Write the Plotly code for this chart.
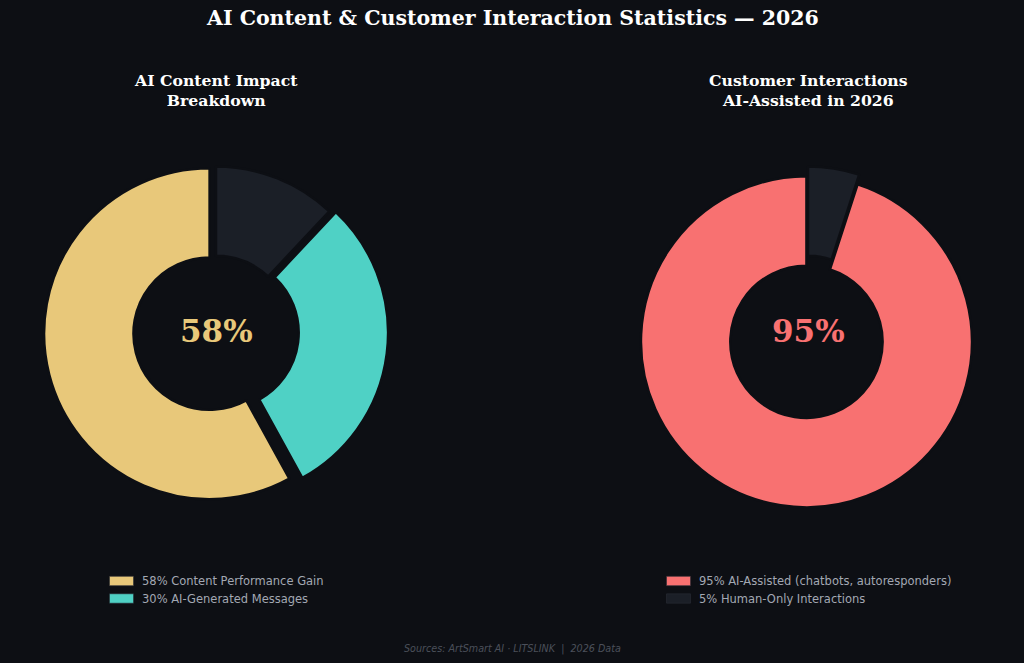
import plotly.graph_objects as go

W, H = 1024, 663
BG = "#0d0f14"
DARK = "#1b1f27"

# ---- data ----
left_labels = ["58% Content Performance Gain", "30% AI-Generated Messages", "Other"]
left_values = [58, 30, 12]
left_colors = ["#e8c87a", "#4fd1c5", DARK]
left_pull = [0.04, 0.04, 0]
left_legend_items = [0, 1]

right_labels = ["95% AI-Assisted (chatbots, autoresponders)", "5% Human-Only Interactions"]
right_values = [95, 5]
right_colors = ["#f87171", DARK]
right_pull = [0.06, 0]
right_legend_items = [0, 1]

title = "AI Content & Customer Interaction Statistics — 2026"
left_title = "AI Content Impact<br>Breakdown"
right_title = "Customer Interactions<br>AI-Assisted in 2026"
left_center = "58%"
right_center = "95%"
footer = "Sources: ArtSmart AI · LITSLINK  |  2026 Data"


def px_x(x):
    return x / W


def px_y(y):
    return 1 - y / H


def domain(cx, cy, r, pull):
    rd = r * (1 + max(pull))
    return dict(x=[px_x(cx - rd), px_x(cx + rd)], y=[px_y(cy + rd), px_y(cy - rd)])


def donut(labels, values, colors, pull, cx, cy):
    # first slice runs counter-clockwise from 12 o'clock: draw reversed, clockwise
    return go.Pie(
        labels=labels[::-1], values=values[::-1], sort=False, direction="clockwise",
        rotation=0, hole=0.46, pull=pull[::-1], textinfo="none", showlegend=False,
        marker=dict(colors=colors[::-1], line=dict(color=BG, width=2.5)),
        domain=domain(cx, cy, 165.5, pull),
    )


fig = go.Figure()
fig.add_trace(donut(left_labels, left_values, left_colors, left_pull, 216, 332))
fig.add_trace(donut(right_labels, right_values, right_colors, right_pull, 808, 332))

ann = []
shapes = []
serif = "DejaVu Serif"

ann.append(dict(text="<b>" + title + "</b>", x=0.5, y=px_y(18), xref="paper", yref="paper",
                showarrow=False, font=dict(family=serif, size=20.5, color="#ffffff"),
                xanchor="center", yanchor="middle"))
ann.append(dict(text="<b>" + left_title + "</b>", x=px_x(216), y=px_y(91), xref="paper", yref="paper",
                showarrow=False, font=dict(family=serif, size=15.7, color="#ffffff"),
                xanchor="center", yanchor="middle"))
ann.append(dict(text="<b>" + right_title + "</b>", x=px_x(808), y=px_y(91), xref="paper", yref="paper",
                showarrow=False, font=dict(family=serif, size=15.7, color="#ffffff"),
                xanchor="center", yanchor="middle"))
ann.append(dict(text="<b>" + left_center + "</b>", x=px_x(216), y=px_y(331), xref="paper", yref="paper",
                showarrow=False, font=dict(family=serif, size=31, color=left_colors[0]),
                xanchor="center", yanchor="middle"))
ann.append(dict(text="<b>" + right_center + "</b>", x=px_x(808), y=px_y(331), xref="paper", yref="paper",
                showarrow=False, font=dict(family=serif, size=31, color=right_colors[0]),
                xanchor="center", yanchor="middle"))
ann.append(dict(text="<i>" + footer + "</i>", x=0.5, y=px_y(649), xref="paper", yref="paper",
                showarrow=False, font=dict(family="DejaVu Sans", size=9.6, color="#4b4f5a"),
                xanchor="center", yanchor="middle"))


def add_legend(x0, items, labels, colors):
    for k, i in enumerate(items):
        yc = 581 + k * 17.5
        shapes.append(dict(type="rect", xref="paper", yref="paper",
                           x0=px_x(x0), x1=px_x(x0 + 24), y0=px_y(yc + 4.7), y1=px_y(yc - 4.7),
                           fillcolor=colors[i], line=dict(color="#2a2d35", width=0.6)))
        ann.append(dict(text=labels[i], x=px_x(x0 + 30), y=px_y(yc), xref="paper", yref="paper",
                        showarrow=False, font=dict(family="DejaVu Sans", size=11.5, color="#a3a8b3"),
                        xanchor="left", yanchor="middle"))


add_legend(109.5, left_legend_items, left_labels, left_colors)
add_legend(666.5, right_legend_items, right_labels, right_colors)

fig.update_layout(
    width=W, height=H, paper_bgcolor=BG, plot_bgcolor=BG,
    margin=dict(l=0, r=0, t=0, b=0), showlegend=False,
    annotations=ann, shapes=shapes,
)
fig.write_html("out.html")
